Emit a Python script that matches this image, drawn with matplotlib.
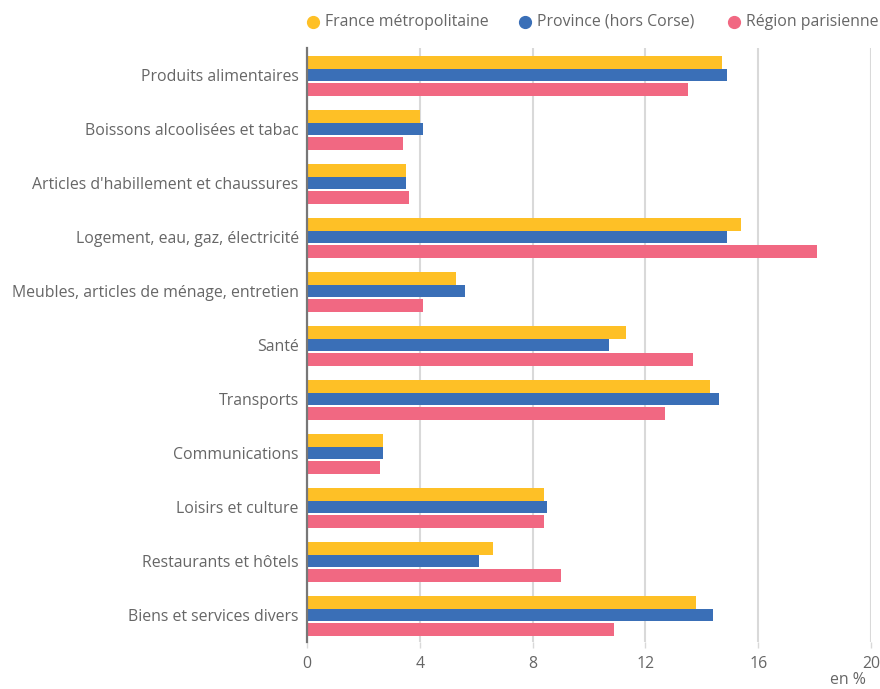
import numpy as np
import matplotlib
matplotlib.use("Agg")
import matplotlib.pyplot as plt
from matplotlib.lines import Line2D

plt.rcParams['font.family'] = ['Open Sans', 'DejaVu Sans']

# data (en %)
categories = [
    "Produits alimentaires",
    "Boissons alcoolisées et tabac",
    "Articles d'habillement et chaussures",
    "Logement, eau, gaz, électricité",
    "Meubles, articles de ménage, entretien",
    "Santé",
    "Transports",
    "Communications",
    "Loisirs et culture",
    "Restaurants et hôtels",
    "Biens et services divers",
]
france = [14.7, 4.0, 3.5, 15.4, 5.3, 11.3, 14.3, 2.7, 8.4, 6.6, 13.8]
province = [14.9, 4.1, 3.5, 14.9, 5.6, 10.7, 14.6, 2.7, 8.5, 6.1, 14.4]
paris = [13.5, 3.4, 3.6, 18.1, 4.1, 13.7, 12.7, 2.6, 8.4, 9.0, 10.9]

series_names = ["France métropolitaine", "Province (hors Corse)", "Région parisienne"]
colors = ["#FEC026", "#3A6FB7", "#F16882"]
xticks = [0, 4, 8, 12, 16, 20]

text_color = "#666666"
fs = 11.4

fig = plt.figure(figsize=(8.8, 6.89), dpi=100)
ax = fig.add_axes([307 / 880, 1 - 642 / 689, (871 - 307) / 880, (642 - 48) / 689])

y = np.arange(len(categories))
h = 0.24
offsets = [-h, 0, h + 0.02]
for vals, off, col in zip([france, province, paris], offsets, colors):
    ax.barh(y + off, vals, height=h, color=col, zorder=3)

ax.set_ylim(len(categories) - 0.5, -0.5)
ax.set_xlim(0, 20)
ax.set_xticks(xticks)
ax.set_xticklabels([str(t) for t in xticks])
ax.set_yticks(y)
ax.set_yticklabels(categories)

ax.grid(axis='x', color='#d9d9d9', linewidth=1.5, zorder=0)
ax.grid(axis='y', visible=False)
for s in ['top', 'right', 'bottom']:
    ax.spines[s].set_visible(False)
ax.spines['left'].set_color('#777777')
ax.spines['left'].set_linewidth(1.6)
ax.spines['left'].set_zorder(4)

ax.tick_params(axis='y', length=0, pad=6, labelsize=fs, labelcolor=text_color)
ax.tick_params(axis='x', length=4, width=1, color='#d9d9d9', pad=6,
               labelsize=fs, labelcolor=text_color)

fig.text(866 / 880, 1 - 680 / 689, "en %", ha='right', va='center',
         fontsize=fs, color=text_color)

# legend drawn by hand along the top
leg_y = 1 - 22 / 689
marker_x = [313, 525, 734]
for mx, name, col in zip(marker_x, series_names, colors):
    fig.add_artist(Line2D([mx / 880], [leg_y], marker='o', linestyle='none',
                          markersize=8.5, markerfacecolor=col, markeredgecolor=col,
                          transform=fig.transFigure))
    fig.text((mx + 12) / 880, leg_y, name, ha='left', va='center',
             fontsize=fs, color=text_color)

fig.savefig("out.png", dpi=100)
